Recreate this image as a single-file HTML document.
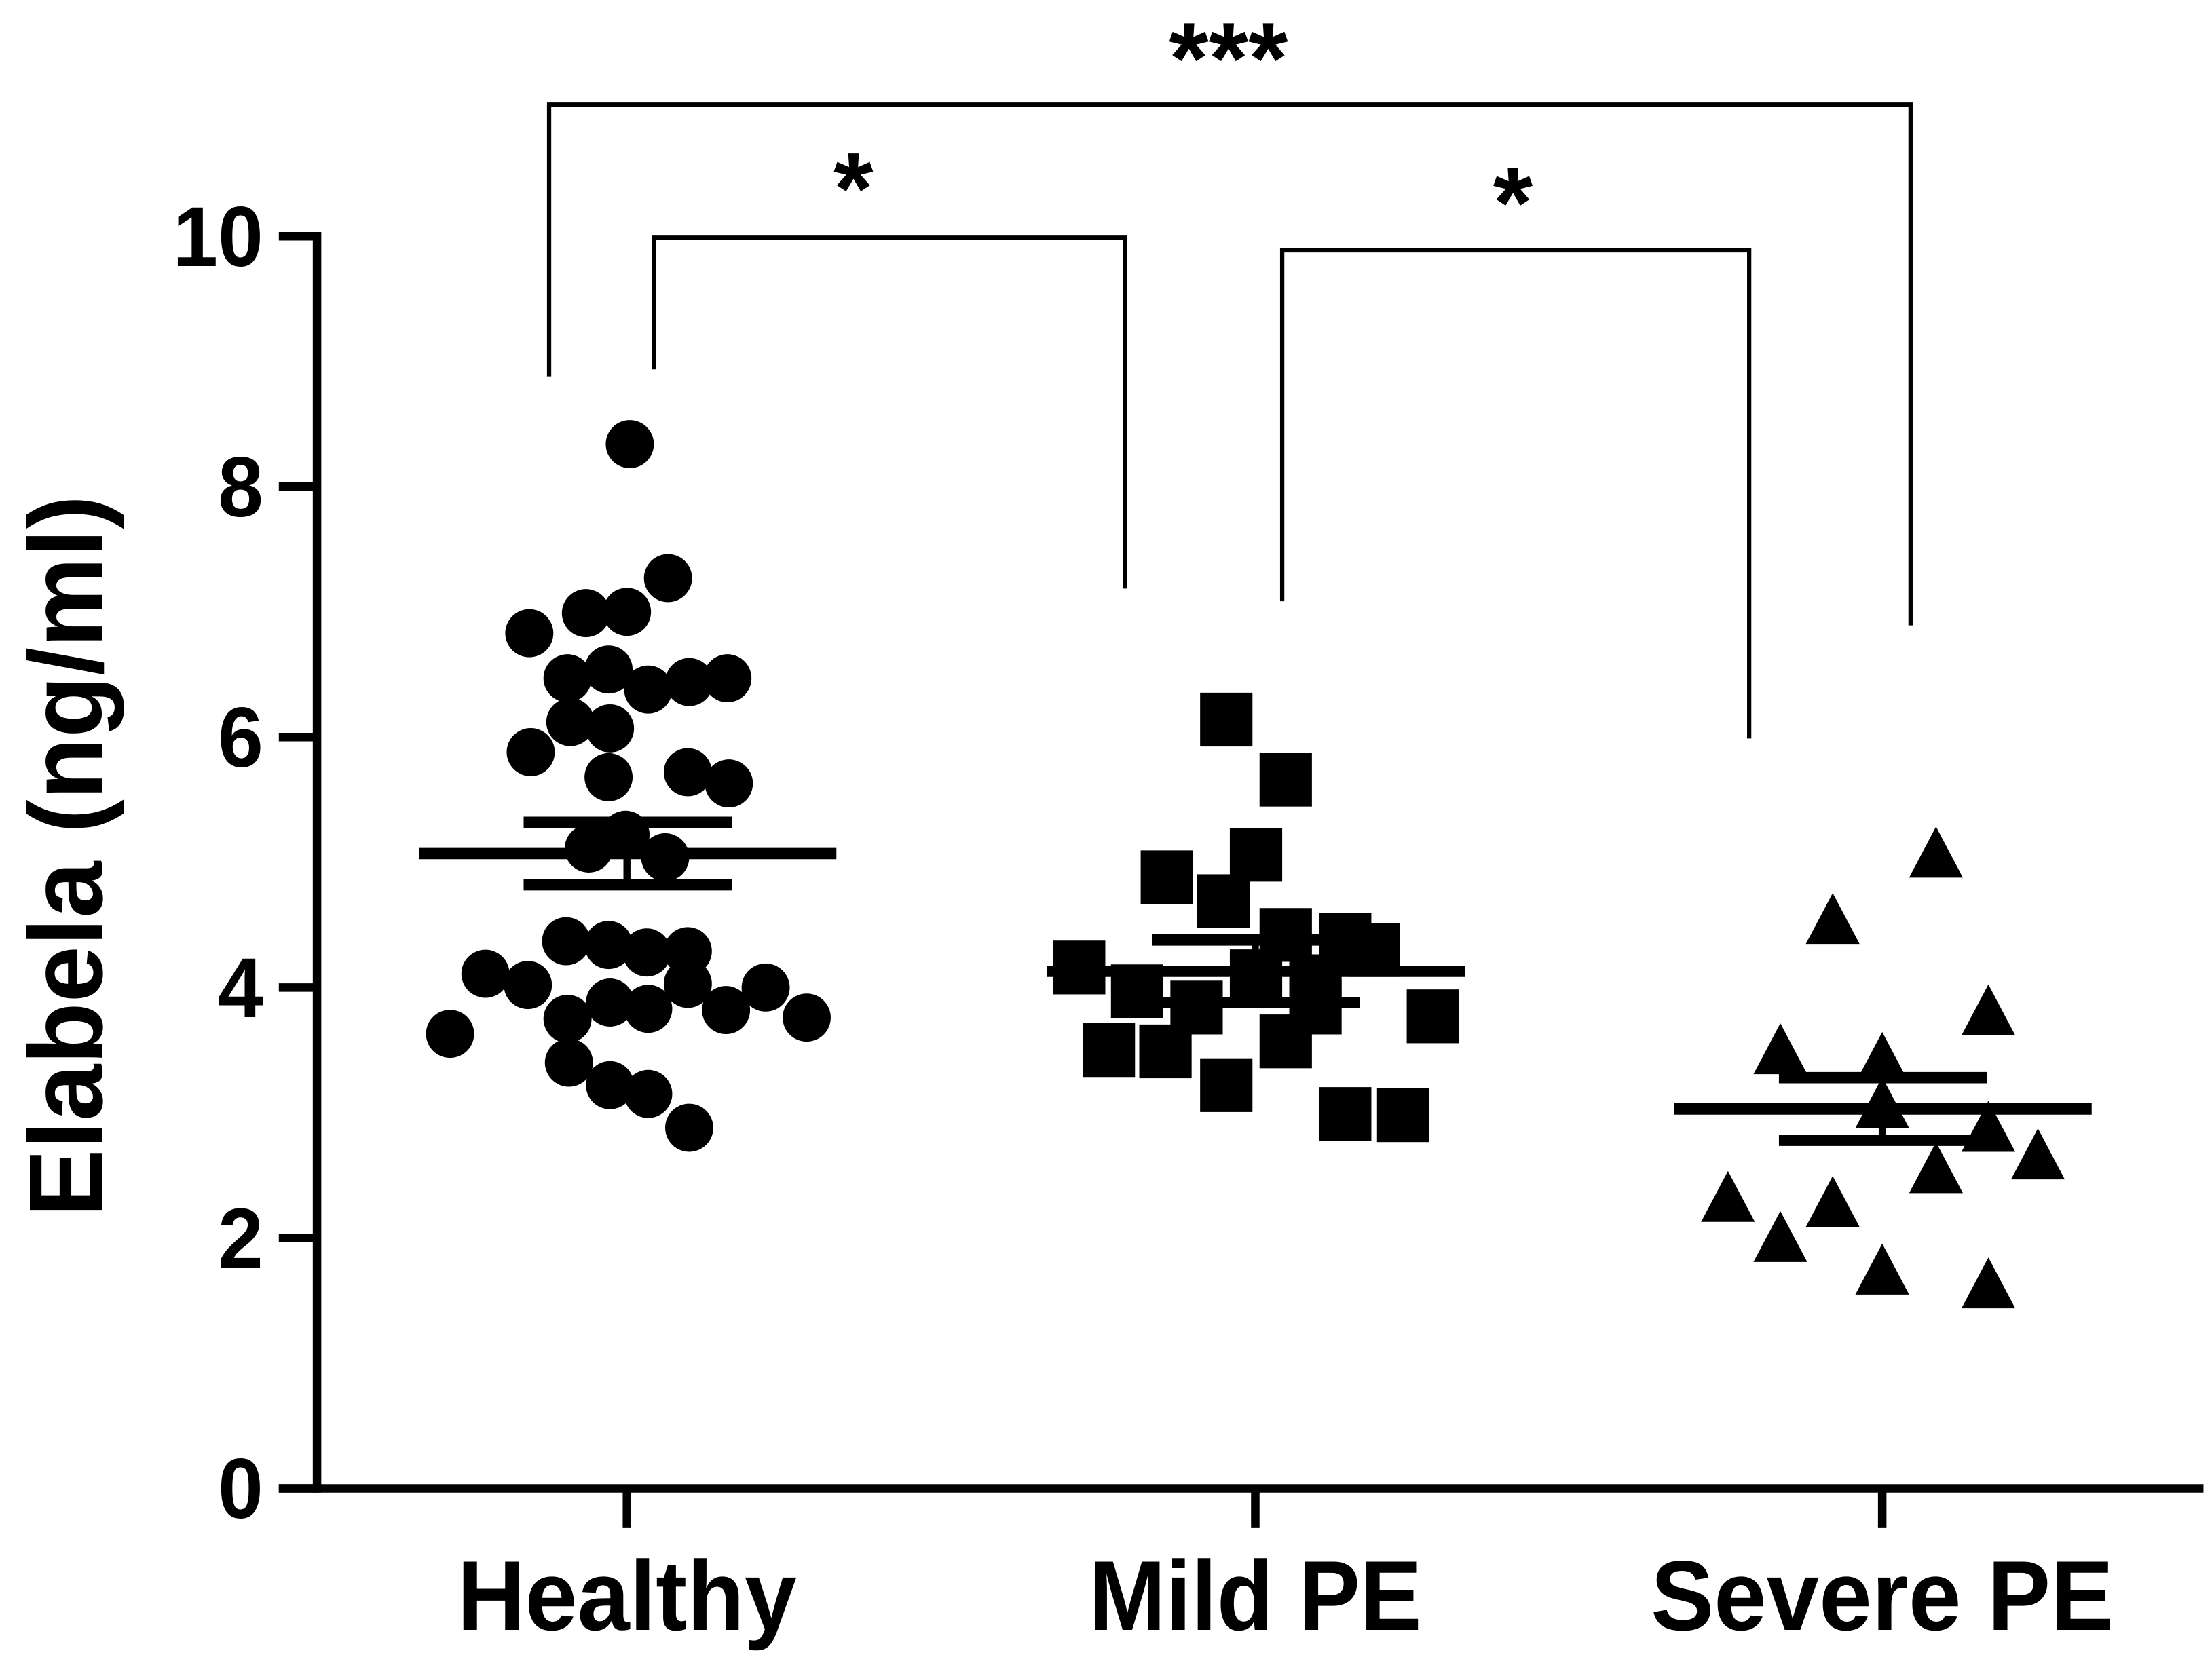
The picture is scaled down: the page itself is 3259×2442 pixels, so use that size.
<!DOCTYPE html>
<html><head><meta charset="utf-8"><style>
html,body{margin:0;padding:0;background:#fff;}
svg{display:block;}
text{font-family:"Liberation Sans",sans-serif;font-weight:bold;fill:#000;}
</style></head><body>
<svg id="chart" width="3259" height="2442" viewBox="0 0 1563 1171.2" xmlns="http://www.w3.org/2000/svg">
<g id="axes"></g>
<g id="marks"></g>
<g id="brackets"></g>
</svg>
<script>
const categories = ["Healthy", "Mild PE", "Severe PE"];
const yTicks = [0, 2, 4, 6, 8, 10];
const healthyX = [445,472,374,414,443,401,430,458,487,514,403,431,375,430,486,515,416,442,470,400,430,457,486,343,373,486,541,401,431,458,513,570,318,402,431,458,487];
const healthyY = [8.34,7.27,6.83,6.99,7.0,6.47,6.54,6.38,6.44,6.47,6.12,6.07,5.88,5.68,5.72,5.63,5.11,5.22,5.04,4.37,4.34,4.28,4.29,4.11,4.02,4.03,4.0,3.75,3.88,3.83,3.82,3.76,3.63,3.40,3.22,3.15,2.88];
const mildX = [866,908,887,824,864,908,950,970,762,803,845,929,1012,783,823,908,866,950,991,887,929];
const mildY = [6.14,5.66,5.06,4.88,4.69,4.42,4.38,4.30,4.16,3.97,3.84,3.84,3.77,3.50,3.49,3.57,3.22,2.99,2.98,4.09,4.05];
const severeX = [1368,1295,1405,1258,1330,1405,1440,1368,1221,1295,1258,1330,1405,1330];
const severeY = [5.07,4.54,3.81,3.50,3.43,2.88,2.66,2.55,2.32,2.28,2.00,1.74,1.63,3.07];
const means = [5.07, 4.13, 3.03];
const sems = [0.25, 0.25, 0.25];
const brackets = [
  {label:"***", a:388, b:1350, top:74, la:266, lb:442, tx:868, ty:66},
  {label:"*", a:462, b:795, top:168, la:261, lb:416, tx:603, ty:158},
  {label:"*", a:906, b:1236, top:177, la:425, lb:522, tx:1069, ty:168}
];

const NS = "http://www.w3.org/2000/svg";
const X0 = 224, Y0 = 1052, Y10 = 167;
const catX = [443, 887, 1330];
function yScale(v){ return Y0 - (v/10)*(Y0-Y10); }
function mk(tag, attrs, parent){ const e=document.createElementNS(NS,tag); for(const k in attrs) e.setAttribute(k,attrs[k]); parent.appendChild(e); return e; }
const axes = document.getElementById('axes');
const marks = document.getElementById('marks');
const br = document.getElementById('brackets');

let yl = mk('line',{x1:X0,y1:yScale(10)-3,x2:X0,y2:Y0+3,stroke:'#000','stroke-width':6},axes);


let xl = mk('line',{x1:197,y1:Y0,x2:1557,y2:Y0,stroke:'#000','stroke-width':6},axes);


yTicks.forEach(v=>{
  const y = yScale(v);
  let t = mk('line',{x1:197,y1:y,x2:X0,y2:y,stroke:'#000','stroke-width':6},axes);
  
  
  const s = String(v);
  let tx = mk('text',{x:186,y:y+21,'text-anchor':'end','font-size':60,textLength:s.length*32,lengthAdjust:'spacingAndGlyphs'},axes);
  tx.textContent = s;
  
  
});
const catW = [240, 235, 327];
categories.forEach((c,i)=>{
  let t = mk('line',{x1:catX[i],y1:Y0,x2:catX[i],y2:1080,stroke:'#000','stroke-width':6},axes);
  
  
  let tx = mk('text',{x:catX[i],y:1152,'text-anchor':'middle','font-size':70,textLength:catW[i],lengthAdjust:'spacingAndGlyphs'},axes);
  tx.textContent = c;
  
  
});
let ylab = mk('text',{x:0,y:0,'text-anchor':'middle','font-size':74,textLength:510,lengthAdjust:'spacingAndGlyphs',transform:'translate(72,605) rotate(-90)'},axes);
ylab.textContent = 'Elabela (ng/ml)';



healthyX.forEach((x,i)=>{
  let c = mk('circle',{cx:x,cy:yScale(healthyY[i]),r:17,fill:'#000'},marks);
  
  
});
mildX.forEach((x,i)=>{
  const y = yScale(mildY[i]);
  let r = mk('rect',{x:x-18,y:y-19,width:37,height:38,fill:'#000'},marks);
  
  
});
severeX.forEach((x,i)=>{
  const y = yScale(severeY[i]);
  let p = mk('polygon',{points:`${x},${y-19} ${x+19},${y+17} ${x-19},${y+17}`,fill:'#000'},marks);
  
  
});
means.forEach((m,i)=>{
  const cx = catX[i];
  let ml = mk('line',{x1:cx-147,y1:yScale(m),x2:cx+148,y2:yScale(m),stroke:'#000','stroke-width':8},marks);
  
  
  [m+sems[i], m-sems[i]].forEach(v=>{
    let s = mk('line',{x1:cx-73,y1:yScale(v),x2:cx+74,y2:yScale(v),stroke:'#000','stroke-width':8},marks);
    
    
  });
  let v = mk('line',{x1:cx,y1:yScale(m+sems[i]),x2:cx,y2:yScale(m-sems[i]),stroke:'#000','stroke-width':5},marks);
  
  
});
brackets.forEach(b=>{
  let p = mk('polyline',{points:`${b.a},${b.la} ${b.a},${b.top} ${b.b},${b.top} ${b.b},${b.lb}`,fill:'none',stroke:'#000','stroke-width':3},br);
  
  
  let t = mk('text',{x:b.tx,y:b.ty,'text-anchor':'middle','font-size':72,'font-weight':'normal'},br);
  t.textContent = b.label;
  
  
});
</script>
</body></html>
